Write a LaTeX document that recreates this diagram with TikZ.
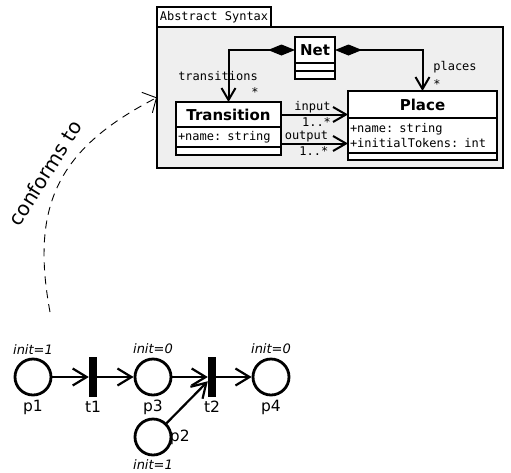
\documentclass[tikz,border=0pt]{standalone}
\usepackage{fontspec}
\setmainfont{DejaVu Sans}
\setmonofont{DejaVu Sans Mono}
\usetikzlibrary{calc,positioning,arrows.meta}
\definecolor{pkgfill}{HTML}{EFEFEF}

\newcommand{\clsfont}{\fontsize{15}{18}\selectfont\bfseries}
\newcommand{\umlfont}{\fontsize{12}{15}\selectfont\ttfamily}
\newcommand{\petrifont}{\fontsize{15.5}{18}\selectfont}
\newcommand{\initfont}{\fontsize{13}{15}\selectfont\itshape}

\tikzset{
  pkgbox/.style={draw,line width=2pt,inner sep=0pt,outer sep=0pt},
  umlbox/.style={draw,fill=white,line width=2pt,inner sep=2pt,outer sep=0pt},
  clshead/.style={umlbox,font=\clsfont},
  clscomp/.style={umlbox,font=\umlfont,align=left,anchor=north},
  rolelbl/.style={font=\umlfont,inner sep=1pt},
  assoc/.style={line width=2pt,-{Straight Barb[length=13pt,width=15pt]}},
  compo/.style={line width=2pt,{Diamond[length=27pt,width=11pt]}-{Straight Barb[length=12pt,width=14pt]}},
  petriplace/.style={circle,draw,line width=2.8pt,minimum size=36pt,inner sep=0pt},
  petritrans/.style={rectangle,fill=black,minimum width=8pt,minimum height=40pt,inner sep=0pt},
  petriarc/.style={line width=2.2pt,-{Straight Barb[length=14pt,width=17pt]}},
  plabel/.style={font=\petrifont},
  ilabel/.style={font=\initfont},
}

\begin{document}
\begin{tikzpicture}[x=1pt,y=-1pt]
  \useasboundingbox (0,0) rectangle (511,472);

  % abstract syntax package
  \node[pkgbox,fill=pkgfill,minimum width=346pt,minimum height=141pt] (pkg) at (330,97.5) {};
  \node[pkgbox,fill=white,minimum width=114pt,minimum height=20pt,anchor=south west,font=\umlfont] (pkgtab) at (pkg.north west) {Abstract Syntax};

  % classes
  \node[clshead,minimum width=40pt,minimum height=26pt] (net) at (315,50) {Net};
  \node[clscomp,minimum width=40pt,minimum height=8pt] (netA) at (net.south) {};
  \node[clscomp,minimum width=40pt,minimum height=8pt] (netO) at (netA.south) {};

  \node[clshead,minimum width=105pt,minimum height=25pt] (transition) at (228.5,114.5) {Transition};
  \node[clscomp,text width=101pt,minimum height=20pt] (transitionA) at (transition.south) {+name: string};
  \node[clscomp,minimum width=105pt,minimum height=8pt] (transitionO) at (transitionA.south) {};

  \node[clshead,minimum width=149pt,minimum height=27pt] (place) at (422.5,104.5) {Place};
  \node[clscomp,text width=145pt,minimum height=35pt] (placeA) at (place.south) {+name: string\\+initialTokens: int};
  \node[clscomp,minimum width=149pt,minimum height=7pt] (placeO) at (placeA.south) {};

  % associations
  \draw[compo] (net.west) -| (transition.north);
  \draw[compo] (net.east) -| (place.north);
  \node[rolelbl] (lblTr) at (218,76) {transitions};
  \node[rolelbl] (lblTrM) at (255,92) {*};
  \node[rolelbl] (lblPl) at (455,67) {places};
  \node[rolelbl] (lblPlM) at (437,84) {*};

  \draw[assoc] (transition.east) -- (transition.east -| place.west)
    node[rolelbl,pos=0.47,above] (lblIn) {input}
    node[rolelbl,pos=0.53,below=1pt] (lblInM) {1..*};
  \coordinate (outS) at ($(transitionA.east)+(0,6.5)$);
  \draw[assoc] (outS) -- (outS -| place.west)
    node[rolelbl,pos=0.38,above] (lblOut) {output}
    node[rolelbl,pos=0.49,below=1pt] (lblOutM) {1..*};

  % conformance
  \coordinate (cfStart) at (50,312);
  \draw[line width=0.9pt,dash pattern=on 8pt off 6pt,-{Straight Barb[length=10.5pt,width=23pt]}]
    (cfStart) .. controls (30,204) and (59,148) .. (pkg.west);
  \node[font=\fontsize{20}{24}\selectfont,rotate=58] (conf) at (45,173) {conforms to};

  % petri net
  \node[petriplace,label={[plabel]below:p1},label={[ilabel]above:{init=1}}] (p1) at (33,377) {};
  \node[petritrans,label={[plabel]below:t1}] (t1) at (93,377) {};
  \node[petriplace,label={[plabel]below:p3},label={[ilabel]above:{init=0}}] (p3) at (153,377) {};
  \node[petritrans,label={[plabel]below:t2}] (t2) at (212,377) {};
  \node[petriplace,label={[plabel]below:p4},label={[ilabel]above:{init=0}}] (p4) at (271,377) {};
  \node[petriplace,label={[plabel,label distance=-6pt]right:p2},label={[ilabel]below:{init=1}}] (p2) at (153,437) {};

  \draw[petriarc] (p1) -- (t1);
  \draw[petriarc] (t1) -- (p3);
  \draw[petriarc] (p3) -- (t2);
  \draw[petriarc] (t2) -- (p4);
  \draw[petriarc] (p2) -- (t2);
\end{tikzpicture}
\end{document}
